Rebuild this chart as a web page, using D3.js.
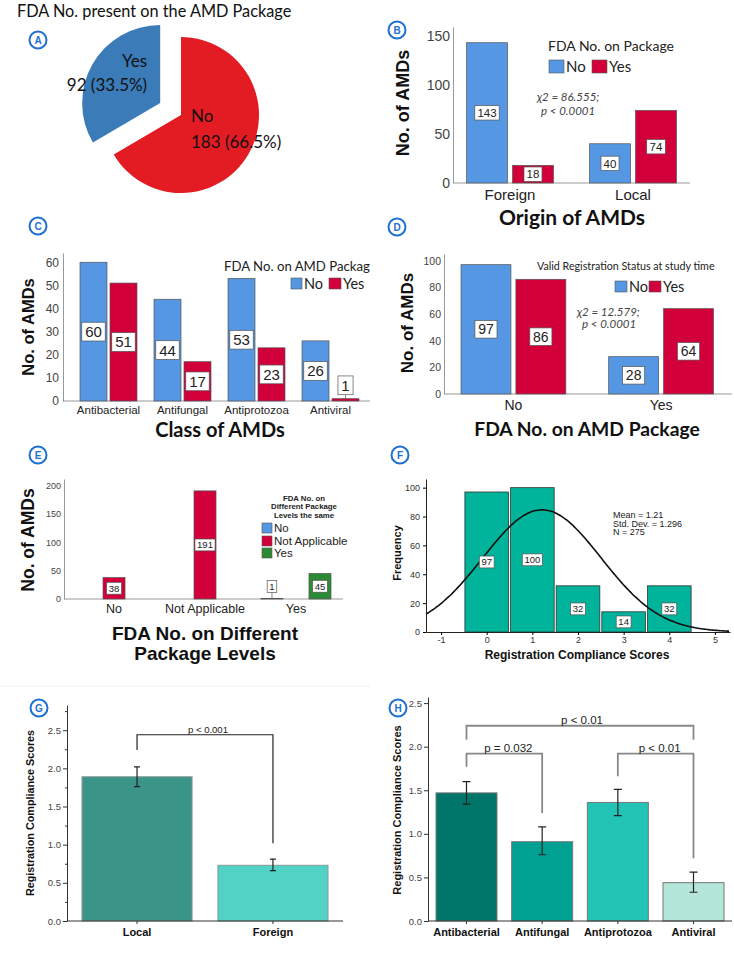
<!DOCTYPE html>
<html>
<head>
<meta charset="utf-8">
<script src="https://cdn.jsdelivr.net/npm/d3@7"></script>
<style>
  body { margin: 0; background: #fff; }
</style>
</head>
<body>
<svg id="fig"></svg>
<script>
// ---- data ----
const pieLabels = ["Yes", "No"];
const pieValues = [92, 183];
const piePct = ["33.5%", "66.5%"];

const originCats = ["Foreign", "Local"];
const originNo = [143, 40];
const originYes = [18, 74];

const classCats = ["Antibacterial", "Antifungal", "Antiprotozoa", "Antiviral"];
const classNo = [60, 44, 53, 26];
const classYes = [51, 17, 23, 1];

const regCats = ["No", "Yes"];
const regNo = [97, 28];
const regYes = [86, 64];

const levelCats = ["No", "Not Applicable", "Yes"];
const levelNo = [0, 0, 1];
const levelNA = [38, 191, 0];
const levelYes = [0, 0, 45];

const scoreBins = [0, 1, 2, 3, 4];
const scoreFreq = [97, 100, 32, 14, 32];
const scoreMean = 1.21, scoreSD = 1.296, scoreN = 275;

const originScoreCats = ["Local", "Foreign"];
const originScoreMean = [1.89, 0.73];
const originScoreLow = [1.76, 0.66];
const originScoreHigh = [2.02, 0.81];

const classScoreMean = [1.47, 0.91, 1.36, 0.44];
const classScoreLow = [1.34, 0.76, 1.21, 0.33];
const classScoreHigh = [1.60, 1.08, 1.51, 0.56];

// ---- styling ----
const BLUE = "#5597e3", RED = "#d2003a", GREEN = "#2b8a33";
const CAL = "Lato, 'Open Sans', sans-serif";
const ARIAL = "'Liberation Sans', Arial, sans-serif";

const svg = d3.select("#fig").attr("width", 734).attr("height", 953)
  .attr("font-family", ARIAL);

function badge(x, y, letter) {
  const g = svg.append("g").attr("transform", "translate(" + x + "," + y + ")");
  g.append("circle").attr("r", 8.5).attr("fill", "#fff")
    .attr("stroke", "#1e6fd2").attr("stroke-width", 2);
  g.append("text").attr("text-anchor", "middle").attr("dy", "0.36em")
    .attr("fill", "#1e6fd2").attr("font-size", 10).attr("font-weight", "bold")
    .text(letter);
}

function valueBox(g, cx, cy, txt, size) {
  const t = g.append("text").attr("x", cx).attr("y", cy)
    .attr("text-anchor", "middle").attr("dy", "0.36em")
    .attr("font-size", size).attr("fill", "#222").text(txt);
  const b = t.node().getBBox();
  const h = size * 1.25, w = b.width + size * 0.45;
  g.insert("rect", () => t.node())
    .attr("x", cx - w / 2).attr("y", cy - h / 2)
    .attr("width", w).attr("height", h)
    .attr("fill", "#fff").attr("stroke", "#555").attr("stroke-width", 0.7);
  return h;
}

function yTitle(x, y, txt, size, font) {
  svg.append("text")
    .attr("transform", "translate(" + x + "," + y + ") rotate(-90)")
    .attr("text-anchor", "middle").attr("dy", "0.35em")
    .attr("font-family", font || ARIAL)
    .attr("font-weight", "bold").attr("font-size", size).attr("fill", "#111")
    .text(txt);
}

function title(x, y, txt, size, font) {
  return svg.append("text").attr("x", x).attr("y", y)
    .attr("text-anchor", "middle").attr("font-family", font || CAL)
    .attr("font-weight", "bold").attr("font-size", size).attr("fill", "#111")
    .text(txt);
}

function swatch(g, x, y, w, h, color, label, font, size) {
  g.append("rect").attr("x", x).attr("y", y).attr("width", w).attr("height", h)
    .attr("fill", color).attr("stroke", "#555").attr("stroke-width", 0.6);
  g.append("text").attr("x", x + w + 2).attr("y", y + h / 2).attr("dy", "0.36em")
    .attr("font-family", font).attr("font-size", size).attr("fill", "#222")
    .text(label);
}

// clustered bar chart with SPSS style boxed value labels
function clustered(o) {
  const g = svg.append("g");
  const x = d3.scaleBand().domain(o.cats).range(o.band).paddingInner(o.padIn);
  const xs = d3.scaleBand().domain(o.series.map(s => s.name))
    .range([0, x.bandwidth()]).paddingInner(o.padSeries);
  const y = d3.scaleLinear().domain(o.yDomain).range(o.yRange);

  const ya = g.append("g").attr("transform", "translate(" + o.axisX[0] + ",0)")
    .call(d3.axisLeft(y).tickValues(o.yTicks).tickSize(0).tickPadding(o.tickPad));
  ya.attr("font-family", ARIAL);
  ya.select(".domain").attr("stroke", "#999");
  ya.selectAll("text").attr("font-size", o.tickFont).attr("fill", "#444");

  g.append("line").attr("x1", o.axisX[0]).attr("x2", o.axisX[1])
    .attr("y1", y(0)).attr("y2", y(0)).attr("stroke", "#999");

  const xa = g.append("g").attr("transform", "translate(0," + y(0) + ")")
    .call(d3.axisBottom(x).tickSize(0).tickPadding(o.xPad));
  xa.attr("font-family", ARIAL);
  xa.select(".domain").remove();
  xa.selectAll("text").attr("font-size", o.xFont).attr("fill", "#222");

  const cells = o.series.flatMap(s => o.cats.map((c, i) => ({
    c: c, s: s.name, color: s.color, v: s.values[i]
  }))).filter(d => d.v > 0);

  g.selectAll("rect.bar").data(cells).join("rect").attr("class", "bar")
    .attr("x", d => x(d.c) + xs(d.s))
    .attr("y", d => y(d.v))
    .attr("width", xs.bandwidth())
    .attr("height", d => y(0) - y(d.v))
    .attr("fill", d => d.color)
    .attr("stroke", "#555").attr("stroke-width", 0.7);

  cells.forEach(d => {
    const cx = x(d.c) + xs(d.s) + xs.bandwidth() / 2;
    const boxH = o.labelFont * 1.25;
    const barH = y(0) - y(d.v);
    if (barH > boxH + 2) {
      valueBox(g, cx, (y(d.v) + y(0)) / 2, d.v, o.labelFont);
    } else {
      const cy = y(d.v) - o.leader - boxH / 2;
      g.append("line").attr("x1", cx).attr("x2", cx)
        .attr("y1", y(d.v)).attr("y2", y(d.v) - o.leader)
        .attr("stroke", "#555").attr("stroke-width", 0.7);
      valueBox(g, cx, cy, d.v, o.labelFont);
    }
  });
  return g;
}

// ---------------- A: pie ----------------
svg.append("text").attr("x", 17).attr("y", 17)
  .attr("font-family", CAL).attr("font-size", 16.3).attr("fill", "#111")
  .text("FDA No. present on the AMD Package");
badge(38, 40, "A");
{
  const total = d3.sum(pieValues);
  const a0 = -2 * Math.PI * pieValues[0] / total;
  const pie = d3.pie().sort(null).startAngle(a0).endAngle(a0 + 2 * Math.PI);
  const arc = d3.arc().innerRadius(0).outerRadius(78);
  const cx = 181, cy = 115, explode = 24;
  const arcs = pie(pieValues);
  const colors = ["#3a7bb8", "#e31b23"];
  const g = svg.append("g").attr("transform", "translate(" + cx + "," + cy + ")");
  arcs.forEach((d, i) => {
    const mid = (d.startAngle + d.endAngle) / 2;
    const off = i === 0 ? explode : 0;
    const dx = Math.sin(mid) * off, dy = -Math.cos(mid) * off;
    const s = g.append("g").attr("transform", "translate(" + dx + "," + dy + ")");
    s.append("path").attr("d", arc(d)).attr("fill", colors[i]);
    const lines = [pieLabels[i], pieValues[i] + " (" + piePct[i] + ")"];
    const lx = i === 0 ? -13 : 10, anchor = i === 0 ? "end" : "start";
    const ly = i === 0 ? [-36, -12] : [7, 33];
    lines.forEach((t, k) => {
      s.append("text").attr("x", lx).attr("y", ly[k]).attr("text-anchor", anchor)
        .attr("font-family", CAL).attr("font-size", 17).attr("fill", "#111").text(t);
    });
  });
}

// ---------------- B ----------------
badge(397, 30, "B");
clustered({
  cats: originCats,
  series: [{ name: "No", values: originNo, color: BLUE }, { name: "Yes", values: originYes, color: RED }],
  band: [466.5, 676.5], padIn: 0.293, padSeries: 0.109,
  axisX: [453, 690], yDomain: [0, 159], yRange: [183, 27], yTicks: [0, 50, 100, 150],
  tickFont: 14, tickPad: 3, xFont: 15, xPad: 6, labelFont: 11.5, leader: 4
});
yTitle(403, 103, "No. of AMDs", 18);
title(572, 225, "Origin of AMDs", 21);
{
  const g = svg.append("g");
  g.append("text").attr("x", 548).attr("y", 51).attr("font-family", CAL)
    .attr("font-size", 14).attr("fill", "#222").text("FDA No. on Package");
  swatch(g, 549, 60, 15, 13, BLUE, "No", CAL, 15);
  swatch(g, 592, 60, 15, 13, RED, "Yes", CAL, 15);
  g.append("text").attr("x", 537).attr("y", 101).attr("font-family", CAL)
    .attr("font-style", "italic").attr("font-size", 11.5).attr("fill", "#444").text("χ2 = 86.555;");
  g.append("text").attr("x", 541).attr("y", 115).attr("font-family", CAL)
    .attr("font-style", "italic").attr("font-size", 11.5).attr("fill", "#444").text("p < 0.0001");
}

// ---------------- C ----------------
badge(38, 226, "C");
svg.append("clipPath").attr("id", "clipC").append("rect")
  .attr("x", 0).attr("y", 180).attr("width", 370).attr("height", 260);
clustered({
  cats: classCats,
  series: [{ name: "No", values: classNo, color: BLUE }, { name: "Yes", values: classYes, color: RED }],
  band: [80, 359], padIn: 0.23, padSeries: 0.1,
  axisX: [63, 370], yDomain: [0, 64], yRange: [401, 253], yTicks: d3.range(0, 61, 10),
  tickFont: 12, tickPad: 4, xFont: 11.5, xPad: 5, labelFont: 15, leader: 4
});
yTitle(28, 327, "No. of AMDs", 16.5);
title(220, 437, "Class of AMDs", 20);
{
  const g = svg.append("g").attr("clip-path", "url(#clipC)");
  g.append("text").attr("x", 224).attr("y", 271).attr("font-family", CAL)
    .attr("font-size", 13.2).attr("fill", "#222").text("FDA No. on AMD Package");
  swatch(g, 291, 278, 11, 11, BLUE, "No", CAL, 14.5);
  swatch(g, 329, 278, 12, 11, RED, "Yes", CAL, 14.5);
}

// ---------------- D ----------------
badge(397, 227, "D");
clustered({
  cats: regCats,
  series: [{ name: "No", values: regNo, color: BLUE }, { name: "Yes", values: regYes, color: RED }],
  band: [461, 713.5], padIn: 0.29, padSeries: 0.09,
  axisX: [444, 732], yDomain: [0, 105], yRange: [394, 254], yTicks: d3.range(0, 101, 20),
  tickFont: 10.5, tickPad: 3, xFont: 14, xPad: 6, labelFont: 14, leader: 4
});
yTitle(407, 323, "No. of AMDs", 17);
title(587, 436, "FDA No. on AMD Package", 19.3);
{
  const g = svg.append("g");
  g.append("text").attr("x", 537).attr("y", 270).attr("font-family", CAL)
    .attr("font-size", 10.7).attr("fill", "#222").text("Valid Registration Status at study time");
  swatch(g, 615, 281, 12, 11, BLUE, "No", CAL, 14.5);
  swatch(g, 649, 281, 12, 11, RED, "Yes", CAL, 14.5);
  g.append("text").attr("x", 577).attr("y", 316).attr("font-family", CAL)
    .attr("font-style", "italic").attr("font-size", 11.5).attr("fill", "#444").text("χ2 = 12.579;");
  g.append("text").attr("x", 582).attr("y", 328).attr("font-family", CAL)
    .attr("font-style", "italic").attr("font-size", 11.5).attr("fill", "#444").text("p < 0.0001");
}

// ---------------- E ----------------
badge(38, 455, "E");
clustered({
  cats: levelCats,
  series: [
    { name: "No", values: levelNo, color: BLUE },
    { name: "Not Applicable", values: levelNA, color: RED },
    { name: "Yes", values: levelYes, color: GREEN }
  ],
  band: [79, 331], padIn: 0.23, padSeries: 0.083,
  axisX: [64, 343], yDomain: [0, 212], yRange: [599, 479], yTicks: d3.range(0, 201, 50),
  tickFont: 9, tickPad: 3, xFont: 12.5, xPad: 5.5, labelFont: 9.5, leader: 6
});
yTitle(28, 540, "No. of AMDs", 17.5);
title(205, 640, "FDA No. on Different", 19, ARIAL);
title(205, 660, "Package Levels", 19, ARIAL);
{
  const g = svg.append("g");
  ["FDA No. on", "Different Package", "Levels the same"].forEach((t, k) => {
    g.append("text").attr("x", 304).attr("y", 501 + k * 8.3).attr("text-anchor", "middle")
      .attr("font-weight", "bold").attr("font-size", 7.8).attr("fill", "#222").text(t);
  });
  swatch(g, 262, 523, 10, 10, BLUE, "No", ARIAL, 11.5);
  swatch(g, 262, 536, 10, 10, RED, "Not Applicable", ARIAL, 11.5);
  swatch(g, 262, 548, 10, 10, GREEN, "Yes", ARIAL, 11.5);
}

// ---------------- F: histogram ----------------
badge(400, 455, "F");
{
  const g = svg.append("g");
  const x = d3.scaleLinear().domain([-1.33, 5.33]).range([426, 730]);
  const y = d3.scaleLinear().domain([0, 106]).range([632, 479]);

  g.selectAll("rect").data(scoreBins).join("rect")
    .attr("x", (d) => x(d - 0.5) + 1)
    .attr("width", (d) => x(d + 0.5) - x(d - 0.5) - 2)
    .attr("y", (d, i) => y(scoreFreq[i]))
    .attr("height", (d, i) => y(0) - y(scoreFreq[i]))
    .attr("fill", "#00b39b").attr("stroke", "#333").attr("stroke-width", 0.8);

  // normal curve from the stated mean / sd / N (bin width 1)
  const norm = v => scoreN / (scoreSD * Math.sqrt(2 * Math.PI)) *
    Math.exp(-0.5 * Math.pow((v - scoreMean) / scoreSD, 2));
  const xs = d3.range(-1.33, 5.331, 0.04);
  g.append("path").datum(xs)
    .attr("d", d3.line().x(v => x(v)).y(v => y(norm(v))).curve(d3.curveBasis))
    .attr("fill", "none").attr("stroke", "#111").attr("stroke-width", 1.6);

  const ya = g.append("g").attr("transform", "translate(426,0)")
    .call(d3.axisLeft(y).tickValues(d3.range(0, 101, 20)).tickSize(3).tickSizeOuter(0).tickPadding(3));
  ya.attr("font-family", ARIAL);
  ya.select(".domain").attr("stroke", "#222");
  ya.selectAll("text").attr("font-size", 9).attr("fill", "#333");
  const xa = g.append("g").attr("transform", "translate(0,632)")
    .call(d3.axisBottom(x).tickValues(d3.range(-1, 6)).tickFormat(d => String(d))
      .tickSize(3).tickSizeOuter(0).tickPadding(2));
  xa.attr("font-family", ARIAL);
  xa.select(".domain").attr("stroke", "#222");
  xa.selectAll("text").attr("font-size", 9).attr("fill", "#333");

  scoreBins.forEach((b, i) => {
    valueBox(g, x(b), (y(scoreFreq[i]) + y(0)) / 2, scoreFreq[i], 9.5);
  });

  ["Mean = 1.21", "Std. Dev. = 1.296", "N = 275"].forEach((t, k) => {
    g.append("text").attr("x", 613).attr("y", 518 + k * 8.6)
      .attr("font-size", 9).attr("fill", "#222").text(t);
  });
}
yTitle(397, 553, "Frequency", 11);
title(577, 659, "Registration Compliance Scores", 12, ARIAL);

// faint frame line above lower panels
svg.append("line").attr("x1", 0).attr("x2", 370).attr("y1", 686).attr("y2", 686)
  .attr("stroke", "#eeeeee");

// mean +/- error bar chart
function errorBars(o) {
  const g = svg.append("g");
  const x = d3.scaleBand().domain(o.cats).range(o.band).paddingInner(o.padIn);
  const y = d3.scaleLinear().domain(o.yDomain).range(o.yRange);

  g.selectAll("rect").data(o.cats).join("rect")
    .attr("x", d => x(d)).attr("width", x.bandwidth())
    .attr("y", (d, i) => y(o.mean[i])).attr("height", (d, i) => y(0) - y(o.mean[i]))
    .attr("fill", (d, i) => o.colors[i]).attr("stroke", o.barStroke).attr("stroke-width", 1);

  o.cats.forEach((c, i) => {
    const cx = x(c) + x.bandwidth() / 2;
    g.append("path")
      .attr("d", "M" + (cx - o.cap) + "," + y(o.high[i]) + "H" + (cx + o.cap) +
        "M" + cx + "," + y(o.high[i]) + "V" + y(o.low[i]) +
        "M" + (cx - o.cap) + "," + y(o.low[i]) + "H" + (cx + o.cap))
      .attr("fill", "none").attr("stroke", "#222").attr("stroke-width", 1.2);
  });

  const ya = g.append("g").attr("transform", "translate(" + o.axisX[0] + ",0)")
    .call(d3.axisLeft(y).tickValues(d3.range(0, 2.51, 0.5)).tickFormat(d3.format(".1f"))
      .tickSize(4).tickSizeOuter(0).tickPadding(2));
  ya.attr("font-family", ARIAL);
  ya.select(".domain").attr("stroke", "#333");
  ya.selectAll("line").attr("stroke", "#333");
  ya.selectAll("text").attr("font-size", 9.5).attr("fill", "#444");
  if (o.minor) {
    const ym = g.append("g").attr("transform", "translate(" + o.axisX[0] + ",0)")
      .call(d3.axisLeft(y).tickValues(d3.range(0.25, 2.8, 0.5)).tickFormat("").tickSize(2).tickSizeOuter(0));
    ym.select(".domain").remove();
    ym.selectAll("line").attr("stroke", "#333");
  }

  g.append("line").attr("x1", o.axisX[0]).attr("x2", o.axisX[1])
    .attr("y1", y(0)).attr("y2", y(0)).attr("stroke", "#333");
  const xa = g.append("g").attr("transform", "translate(0," + y(0) + ")")
    .call(d3.axisBottom(x).tickSize(3).tickPadding(4));
  xa.attr("font-family", ARIAL);
  xa.select(".domain").remove();
  xa.selectAll("line").attr("stroke", "#333");
  xa.selectAll("text").attr("font-size", 11).attr("font-weight", "bold").attr("fill", "#111");

  o.brackets.forEach(b => {
    const x1 = x(b.from) + x.bandwidth() / 2, x2 = x(b.to) + x.bandwidth() / 2;
    g.append("path")
      .attr("d", "M" + x1 + "," + y(b.leftEnd) + "V" + y(b.top) + "H" + x2 + "V" + y(b.rightEnd))
      .attr("fill", "none").attr("stroke", o.bracketColor).attr("stroke-width", o.bracketWidth);
    g.append("text").attr("x", (x1 + x2) / 2 + b.dx).attr("y", y(b.top) - 1.5)
      .attr("text-anchor", "middle").attr("font-size", o.pFont).attr("fill", "#222").text(b.label);
  });
  return g;
}

// ---------------- G ----------------
badge(39, 708, "G");
errorBars({
  cats: originScoreCats, mean: originScoreMean, low: originScoreLow, high: originScoreHigh,
  colors: ["#3a9488", "#52d1c5"], barStroke: "#8a9a98",
  band: [82, 328], padIn: 0.19, axisX: [67, 343], yDomain: [0, 2.83], yRange: [921, 705],
  cap: 3, minor: true, bracketColor: "#222", bracketWidth: 1.2, pFont: 9.5,
  brackets: [{ from: "Local", to: "Foreign", top: 2.44, leftEnd: 2.24, rightEnd: 1.02, label: "p < 0.001", dx: 3 }]
});
yTitle(30, 813, "Registration Compliance Scores", 10.8);

// ---------------- H ----------------
badge(398, 708, "H");
errorBars({
  cats: classCats, mean: classScoreMean, low: classScoreLow, high: classScoreHigh,
  colors: ["#00766b", "#00a092", "#22c5b5", "#b4e6da"], barStroke: "#777",
  band: [436, 724], padIn: 0.194, axisX: [428, 732], yDomain: [0, 2.57], yRange: [921, 697],
  cap: 4, minor: false, bracketColor: "#888", bracketWidth: 1.8, pFont: 11.5,
  brackets: [
    { from: "Antibacterial", to: "Antiviral", top: 2.24, leftEnd: 2.08, rightEnd: 2.08, label: "p < 0.01", dx: 2 },
    { from: "Antibacterial", to: "Antifungal", top: 1.92, leftEnd: 1.77, rightEnd: 1.24, label: "p = 0.032", dx: 4 },
    { from: "Antiprotozoa", to: "Antiviral", top: 1.92, leftEnd: 1.66, rightEnd: 0.72, label: "p < 0.01", dx: 4 }
  ]
});
yTitle(397, 810, "Registration Compliance Scores", 11);
</script>
</body>
</html>
